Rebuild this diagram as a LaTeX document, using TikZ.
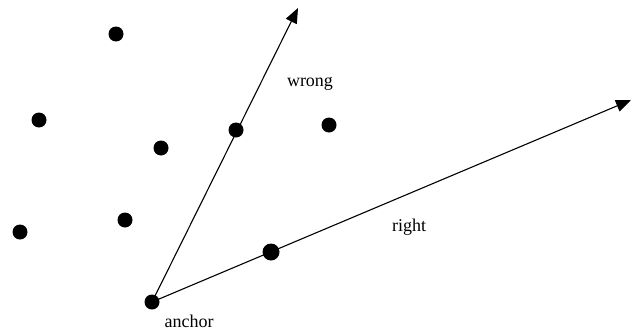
\documentclass[tikz,border=0pt]{standalone}
\usepackage{fontspec}
\setmainfont{Liberation Serif}
\usetikzlibrary{arrows.meta}
\begin{document}
\begin{tikzpicture}[x=1pt,y=-1pt,
  pt/.style={circle,fill=black,inner sep=0pt,minimum size=15pt},
  bigpt/.style={circle,fill=black,inner sep=0pt,minimum size=17pt},
  vec/.style={line width=1.1pt,-{Triangle[length=15pt,width=12pt]}},
  lbl/.style={font=\fontsize{18}{20}\selectfont,inner sep=0pt}]
\useasboundingbox (0,0) rectangle (631,332);
\node[pt] (p1) at (116,34) {};
\node[pt] (p2) at (39,120) {};
\node[pt] (p3) at (161,148) {};
\node[pt] (p4) at (329,125) {};
\node[pt] (p5) at (20,232) {};
\node[pt] (p6) at (125,220) {};
\node[pt] (anchor) at (152,302) {};
\coordinate (up) at (298,8);
\coordinate (rt) at (631,100);
\draw[vec] (anchor.center) -- (up);
\draw[vec] (anchor.center) -- (rt);
\node[pt] (w) at (236,130) {};
\node[bigpt] (r) at (271,252) {};
\node[lbl] (lw) at (310,84) {wrong};
\node[lbl] (lr) at (409,227) {right};
\node[lbl] (la) at (189,321) {anchor};
\end{tikzpicture}
\end{document}
